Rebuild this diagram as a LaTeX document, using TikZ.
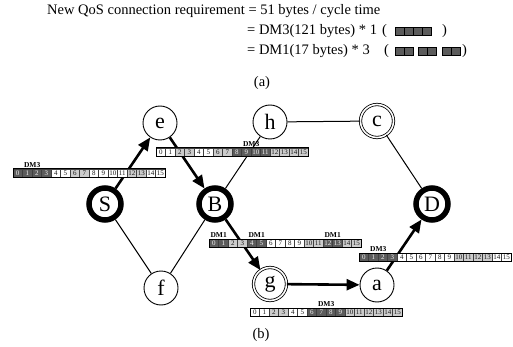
\documentclass[tikz,border=0pt]{standalone}
\usepackage{fontspec}
\setmainfont{Liberation Serif}
\usetikzlibrary{arrows.meta}
\definecolor{fw}{gray}{1}
\definecolor{fl}{gray}{0.80}
\definecolor{fd}{gray}{0.36}
\definecolor{tw}{gray}{0.1}
\definecolor{tl}{gray}{0.1}
\definecolor{td}{gray}{0.95}
\newcommand{\slotstrip}[4]{%
  \foreach \c [count=\i from 0] in {#4} {
    \node[cell, fill=f\c, text=t\c] (#1-\i) at ({#2+\i*9.5+4.75},{#3+4}) {\i};
  }
  \draw[stripframe] (#1-0.north west) rectangle (#1-15.south east);
}
\begin{document}
\begin{tikzpicture}[x=1pt,y=-1pt,
 vtx/.style={circle, draw, line width=0.9pt, minimum size=34pt, inner sep=0pt, fill=white, font=\fontsize{22}{22}\selectfont},
 dblvtx/.style={vtx, double, double distance=1.6pt, line width=0.8pt, minimum size=33pt},
 bigvtx/.style={vtx, line width=5.5pt, minimum size=32pt},
 link/.style={line width=1pt},
 flow/.style={line width=2.6pt, -{Triangle[length=13pt,width=11pt]}},
 cell/.style={draw=black!75, line width=0.4pt, minimum width=9.5pt, minimum height=8pt, inner sep=0pt, font=\fontsize{7}{7}\selectfont},
 stripframe/.style={draw=black, line width=0.6pt},
 dmlabel/.style={font=\bfseries\fontsize{7.5}{7.5}\selectfont, inner sep=0.8pt, anchor=south},
 txt/.style={font=\fontsize{14.5}{14.5}\selectfont, inner sep=0pt, anchor=base west},
 sbox/.style={draw=black, fill=fd, line width=0.8pt, minimum width=9pt, minimum height=8pt, inner sep=0pt},
]
\useasboundingbox[fill=white] (0,0) rectangle (513,347);

% top text
\node[txt] (t1) at (47,15) {New QoS connection requirement = 51 bytes / cycle time};
\node[txt] (t2) at (247,35) {= DM3(121 bytes) * 1};
\node[txt] (t3) at (247,55) {= DM1(17 bytes) * 3};
\node[txt] (p2l) at (382,35) {(};
\node[txt] (p2r) at (442,35) {)};
\node[txt] (p3l) at (384,55) {(};
\node[txt] (p3r) at (462,55) {)};
\foreach \k in {0,1,2,3} \node[sbox] (b2-\k) at ({399.5+\k*9},31) {};
\foreach \k/\xx in {0/399.5,1/408.5,2/422.5,3/431.5,4/446.5,5/455.5} \node[sbox] (b3-\k) at (\xx,51) {};
\node[txt, anchor=base] (capa) at (262,87) {(a)};
\node[txt, anchor=base] (capb) at (261,338) {(b)};

% vertices
\node[bigvtx] (S) at (105,204) {S};
\node[vtx] (e) at (160,123) {e};
\node[bigvtx] (B) at (215,204) {B};
\node[vtx] (f) at (161,288) {f};
\node[vtx] (h) at (270,122) {h};
\node[dblvtx] (c) at (377,121) {c};
\node[bigvtx] (D) at (432,204) {D};
\node[dblvtx] (g) at (270,284) {g};
\node[vtx] (a) at (377,285) {a};

% links
\draw[link] (S) -- (f);
\draw[link] (f) -- (B);
\draw[link] (B) -- (h);
\draw[link] (h) -- (c);
\draw[link] (c) -- (D);

% flow
\draw[flow] (S) -- (e);
\draw[flow] (e) -- (B);
\draw[flow] (B) -- (g);
\draw[flow] (g) -- (a);
\draw[flow] (a) -- (D);

% slot strips
\slotstrip{s1}{13}{169}{d,d,d,d,w,w,l,l,w,w,w,w,l,l,w,w}
\node[dmlabel] (s1lab) at (s1-1.north east) {DM3};
\slotstrip{s2}{156}{148}{w,w,l,l,w,w,l,l,d,d,d,d,l,l,l,l}
\node[dmlabel] (s2lab) at (s2-9.north east) {DM3};
\slotstrip{s3}{209}{239}{d,d,l,l,d,d,w,w,w,w,l,l,d,d,l,l}
\node[dmlabel] (s3lab1) at (s3-0.north east) {DM1};
\node[dmlabel] (s3lab2) at (s3-4.north east) {DM1};
\node[dmlabel] (s3lab3) at (s3-12.north east) {DM1};
\slotstrip{s4}{359}{253}{d,d,d,d,w,w,w,w,w,w,l,l,l,l,w,w}
\node[dmlabel] (s4lab) at (s4-1.north east) {DM3};
\slotstrip{s5}{250}{308}{w,w,l,l,w,w,d,d,d,d,l,l,l,l,l,l}
\node[dmlabel] (s5lab) at (s5-7.north east) {DM3};
\end{tikzpicture}
\end{document}
